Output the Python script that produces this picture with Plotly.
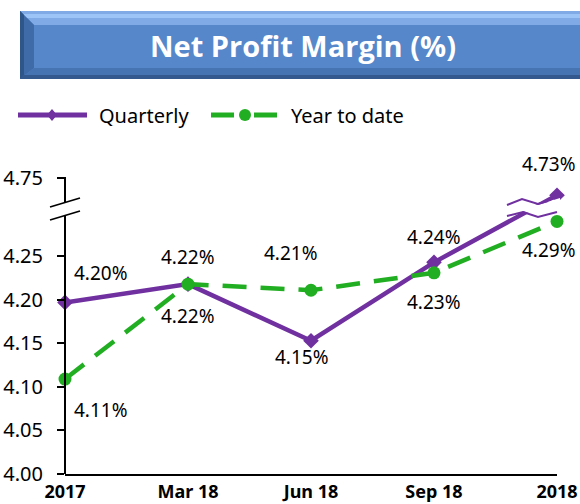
import plotly.graph_objects as go

# ---------------- data ----------------
categories = ["2017", "Mar 18", "Jun 18", "Sep 18", "2018"]
quarterly = [4.197, 4.218, 4.153, 4.243, 4.73]
year_to_date = [4.109, 4.218, 4.211, 4.231, 4.29]
ytick_values = [4.00, 4.05, 4.10, 4.15, 4.20, 4.25, 4.75]
title_text = "Net Profit Margin (%)"

# broken axis: values above the break are shifted down
BREAK_AT = 4.30
BREAK_SHIFT = 0.41


def brk(v):
    return v - BREAK_SHIFT if v > BREAK_AT else v


# ---------------- geometry ----------------
WIDTH, HEIGHT = 580, 504
L, R, T, B = 65, 23, 177, 30
PW = WIDTH - L - R
PH = HEIGHT - T - B
Y0, Y1 = 4.0, 4.341
BOTTOM_PX = HEIGHT - B


def xp(px):
    return (px - L) / PW


def yp(py):
    return (BOTTOM_PX - py) / PH


PURPLE = "#7030A0"
GREEN = "#22AE22"
FONT = "Noto Sans"

x_idx = list(range(len(categories)))

fig = go.Figure()
fig.add_trace(go.Scatter(
    x=x_idx, y=[brk(v) for v in quarterly], mode="lines+markers",
    line=dict(color=PURPLE, width=4.5),
    marker=dict(symbol="diamond", size=12, color=PURPLE),
    cliponaxis=False, showlegend=False, name="Quarterly"))
fig.add_trace(go.Scatter(
    x=x_idx, y=[brk(v) for v in year_to_date], mode="lines+markers",
    line=dict(color=GREEN, width=4.5, dash="24px,14px"),
    marker=dict(symbol="circle", size=13, color=GREEN),
    cliponaxis=False, showlegend=False, name="Year to date"))

# ---------------- data labels ----------------
q_offsets = [(36, 29), (0, 27), (-9, -16), (0, 25), (-8, 31)]
y_offsets = [(36, -31), (0, -32), (-20, 37), (0, -29), (-8, -29)]
annotations = []
for series, offs in ((quarterly, q_offsets), (year_to_date, y_offsets)):
    for i, v in enumerate(series):
        annotations.append(dict(
            x=i, y=brk(v), xref="x", yref="y", text=f"{v:.2f}%",
            showarrow=False, xshift=offs[i][0], yshift=offs[i][1],
            font=dict(family=FONT, size=19, color="#000000")))

# title text
annotations.append(dict(
    x=xp(303), y=yp(45), xref="paper", yref="paper", text=f"<b>{title_text}</b>",
    showarrow=False, xanchor="center", yanchor="middle",
    font=dict(family="Open Sans", size=29, color="#FFFFFF")))

# legend texts
annotations.append(dict(x=xp(97), y=yp(116), xref="paper", yref="paper", text="Quarterly",
                        showarrow=False, xanchor="left", yanchor="middle",
                        font=dict(family=FONT, size=20, color="#000000")))
annotations.append(dict(x=xp(289), y=yp(116), xref="paper", yref="paper", text="Year to date",
                        showarrow=False, xanchor="left", yanchor="middle",
                        font=dict(family=FONT, size=20, color="#000000")))

shapes = []


def prect(x0, y0, x1, y1, color):
    shapes.append(dict(type="rect", xref="paper", yref="paper",
                       x0=xp(x0), x1=xp(x1), y0=yp(y0), y1=yp(y1),
                       fillcolor=color, line=dict(width=0), layer="above"))


def ppoly(pts, color):
    path = "M " + " L ".join(f"{xp(a)},{yp(b)}" for a, b in pts) + " Z"
    shapes.append(dict(type="path", xref="paper", yref="paper", path=path,
                       fillcolor=color, line=dict(width=0), layer="above"))


# ---------------- title box with bevel ----------------
bx0, by0, bx1, by1 = 20, 11, 600, 79
bev = 14
prect(bx0, by0, bx1, by1, "#5587CA")
# top bevel (light)
ppoly([(bx0, by0), (bx1, by0), (bx1, by0 + bev), (bx0 + bev, by0 + bev)], "#7FAAE6")
ppoly([(bx0 + 3, by0 + 3), (bx1, by0 + 3), (bx1, by0 + 7), (bx0 + 7, by0 + 7)], "#9CC4F6")
# left bevel (dark)
ppoly([(bx0, by0), (bx0 + bev, by0 + bev), (bx0 + bev, by1 - 11), (bx0, by1)], "#3F6BA8")
ppoly([(bx0, by0), (bx0 + 4, by0 + 4), (bx0 + 4, by1 - 3), (bx0, by1)], "#2F5689")
# bottom bevel (dark)
ppoly([(bx0, by1), (bx0 + bev, by1 - 11), (bx1, by1 - 11), (bx1, by1)], "#4673B2")
ppoly([(bx0 + 3, by1 - 4), (bx1, by1 - 4), (bx1, by1), (bx0, by1)], "#33598F")


# ---------------- legend symbols ----------------
def pline(x0, y0, x1, y1, color, width):
    shapes.append(dict(type="line", xref="paper", yref="paper",
                       x0=xp(x0), x1=xp(x1), y0=yp(y0), y1=yp(y1),
                       line=dict(color=color, width=width), layer="above"))


pline(18, 115, 87, 115, PURPLE, 5)
ppoly([(52, 109), (57, 115), (52, 121), (47, 115)], PURPLE)
pline(211, 115, 234, 115, GREEN, 5)
pline(254, 115, 277, 115, GREEN, 5)
shapes.append(dict(type="circle", xref="paper", yref="paper",
                   x0=xp(239), x1=xp(251), y0=yp(109), y1=yp(121),
                   fillcolor=GREEN, line=dict(width=0), layer="above"))

# ---------------- y axis line with break ----------------
pline(65, 177, 65, 203, "#000000", 2)
pline(65, 215, 65, 474, "#000000", 2)
pline(50, 207, 80, 198, "#000000", 1.6)
pline(50, 220, 80, 211, "#000000", 1.6)

# ---------------- break on the quarterly line ----------------
upper = [(507, 205), (522, 199), (538, 204), (548, 201)]
lower = [(507, 216), (523, 212), (538, 217), (557, 212)]
ppoly([(505, 206), (522, 200), (538, 205), (560, 198), (560, 211), (538, 216), (523, 211), (505, 215)],
      "#FFFFFF")
for wave in (upper, lower):
    path = "M " + " L ".join(f"{xp(a)},{yp(b)}" for a, b in wave)
    shapes.append(dict(type="path", xref="paper", yref="paper", path=path,
                       line=dict(color=PURPLE, width=2), layer="above"))

fig.update_layout(
    width=WIDTH, height=HEIGHT,
    margin=dict(l=L, r=R, t=T, b=B, pad=0, autoexpand=False),
    paper_bgcolor="#FFFFFF", plot_bgcolor="#FFFFFF",
    showlegend=False,
    xaxis=dict(range=[0, 4], tickvals=x_idx, ticktext=[f"<b>{c}</b>" for c in categories],
               automargin=False, ticklabelstandoff=0,
               showline=True, linecolor="#000000", linewidth=2, showgrid=False,
               zeroline=False, ticks="", tickfont=dict(family=FONT, size=18, color="#000000")),
    yaxis=dict(range=[Y0, Y1], tickvals=[brk(v) for v in ytick_values],
               ticktext=[f"{v:.2f}" for v in ytick_values],
               automargin=False,
               showline=False, showgrid=False, zeroline=False,
               ticks="outside", ticklen=7, tickwidth=2, tickcolor="#000000",
               ticklabelstandoff=10,
               tickfont=dict(family=FONT, size=20, color="#000000")),
    shapes=shapes, annotations=annotations,
)

fig.write_html("out.html", config={"displayModeBar": False},
               post_script="document.body.style.margin='0';document.body.style.overflow='hidden';")
